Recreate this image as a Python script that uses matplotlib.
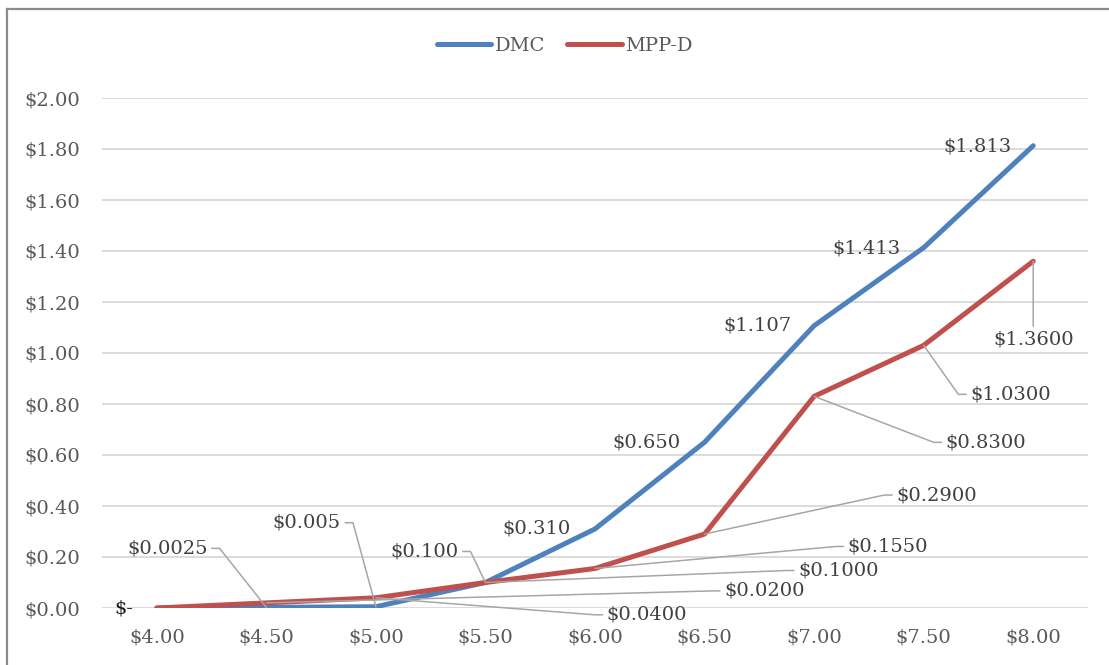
import matplotlib
matplotlib.use("Agg")
import matplotlib.pyplot as plt
from matplotlib.lines import Line2D

# ── data ──────────────────────────────────────────────────────────────────────
prices = [4.0, 4.5, 5.0, 5.5, 6.0, 6.5, 7.0, 7.5, 8.0]
x_labels = ["$4.00", "$4.50", "$5.00", "$5.50", "$6.00", "$6.50", "$7.00", "$7.50", "$8.00"]

dmc = [0.0, 0.0025, 0.005, 0.100, 0.310, 0.650, 1.107, 1.413, 1.813]
mpp_d = [0.0, 0.0200, 0.0400, 0.1000, 0.1550, 0.2900, 0.8300, 1.0300, 1.3600]

dmc_labels = ["$-", "$0.0025", "$0.005", "$0.100", "$0.310", "$0.650", "$1.107", "$1.413", "$1.813"]
mpp_labels = [None, "$0.0200", "$0.0400", "$0.1000", "$0.1550", "$0.2900", "$0.8300", "$1.0300", "$1.3600"]

y_ticks = [0.0, 0.2, 0.4, 0.6, 0.8, 1.0, 1.2, 1.4, 1.6, 1.8, 2.0]
y_labels = ["$0.00", "$0.20", "$0.40", "$0.60", "$0.80", "$1.00",
            "$1.20", "$1.40", "$1.60", "$1.80", "$2.00"]

# ── label layout (pixel offsets from the point, leader side) ─────────────────
# side: None = no leader, "L" = label left of point, "R" = label right, "B" = label below
dmc_offsets = [(-33, -1), (-99, 59), (-69, 84), (-61, 31), (-58, 0),
               (-58, 0), (-57, 0), (-57, -1), (-56, -1)]
dmc_sides = [None, "L", "L", "L", None, None, None, None, None]

mpp_offsets = [None, (498, 12), (271, -17), (353, 12), (293, 22),
               (232, 39), (172, -46), (87, -49), (0, -78)]
mpp_sides = [None, "R", "R", "R", "R", "R", "R", "R", "B"]

BLUE = "#4F81BD"
RED = "#C0504D"
GRID = "#D9D9D9"
TICK_TXT = "#595959"
LABEL_TXT = "#404040"
LEADER = "#A6A6A6"

plt.rcParams["font.family"] = ["DejaVu Serif"]

fig = plt.figure(figsize=(11.09, 6.65), dpi=100)
ax = fig.add_axes([102 / 1109, 57 / 665, 986 / 1109, 510 / 665])

ax.plot(prices, dmc, color=BLUE, lw=3.6, solid_capstyle="round",
        solid_joinstyle="round", label="DMC", zorder=3)
ax.plot(prices, mpp_d, color=RED, lw=3.6, solid_capstyle="round",
        solid_joinstyle="round", label="MPP-D", zorder=4)

ax.set_xlim(3.75, 8.25)
ax.set_ylim(0, 2.0)
ax.set_xticks(prices)
ax.set_xticklabels(x_labels)
ax.set_yticks(y_ticks)
ax.set_yticklabels(y_labels)
ax.tick_params(length=0, labelsize=14, colors=TICK_TXT)
ax.tick_params(axis="y", pad=16)
ax.tick_params(axis="x", pad=15)
for s in ax.spines.values():
    s.set_visible(False)
ax.grid(axis="y", color=GRID, lw=1.3)
ax.set_axisbelow(True)


def leader_props(side):
    if side == "L":
        return dict(arrowstyle="-", color=LEADER, lw=1.1, relpos=(1, 0.5),
                    connectionstyle="arc,angleA=0,armA=12,angleB=0,armB=0,rad=0",
                    shrinkA=3, shrinkB=0, patchA=None)
    if side == "R":
        return dict(arrowstyle="-", color=LEADER, lw=1.1, relpos=(0, 0.5),
                    connectionstyle="arc,angleA=180,armA=12,angleB=0,armB=0,rad=0",
                    shrinkA=3, shrinkB=0, patchA=None)
    if side == "B":
        return dict(arrowstyle="-", color=LEADER, lw=1.1, relpos=(0.5, 1),
                    shrinkA=3, shrinkB=0, patchA=None)
    return None


for xv, yv, txt, off, side in zip(prices, dmc, dmc_labels, dmc_offsets, dmc_sides):
    col = "#1a1a1a" if txt == "$-" else LABEL_TXT
    ax.annotate(txt, (xv, yv), xytext=off, textcoords="offset pixels",
                ha="center", va="center", fontsize=14, color=col,
                arrowprops=leader_props(side), annotation_clip=False, zorder=5)

for xv, yv, txt, off, side in zip(prices, mpp_d, mpp_labels, mpp_offsets, mpp_sides):
    if txt is None:
        continue
    ax.annotate(txt, (xv, yv), xytext=off, textcoords="offset pixels",
                ha="center", va="center", fontsize=14, color=LABEL_TXT,
                arrowprops=leader_props(side), annotation_clip=False, zorder=5)

leg = fig.legend(loc="center", bbox_to_anchor=(565 / 1109, 1 - 46 / 665),
                 ncol=2, frameon=False, fontsize=14, handlelength=2.8,
                 handletextpad=0.2, columnspacing=1.1)
for t in leg.get_texts():
    t.set_color(TICK_TXT)

# chart frame (left and top edges visible in the crop)
fig.add_artist(Line2D([6.5 / 1109, 6.5 / 1109], [0, 1 - 9 / 665],
                      transform=fig.transFigure, color="#8C8C8C", lw=1.6))
fig.add_artist(Line2D([6.5 / 1109, 1], [1 - 9 / 665, 1 - 9 / 665],
                      transform=fig.transFigure, color="#8C8C8C", lw=1.6))

fig.savefig("out.png", dpi=100)
